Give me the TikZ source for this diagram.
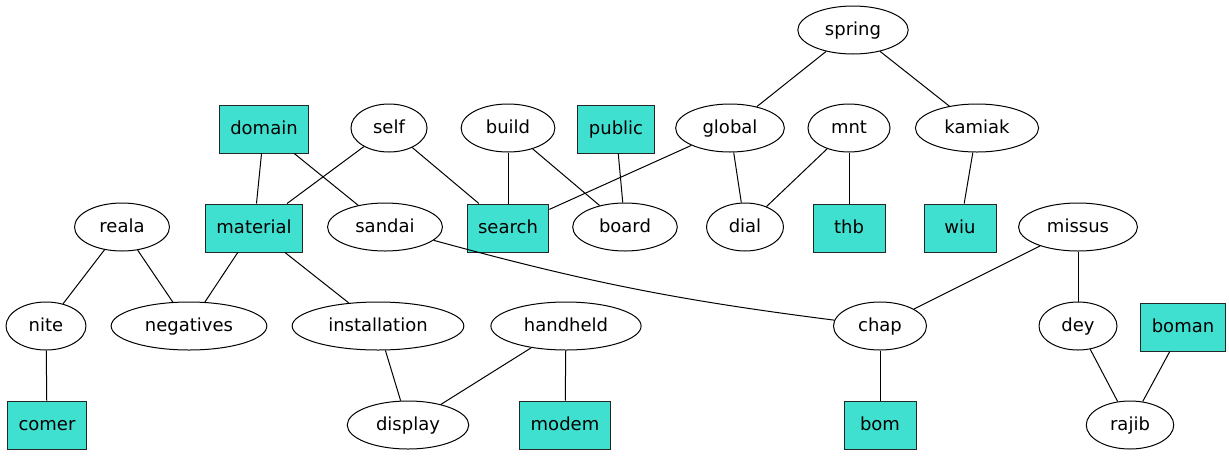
\documentclass[tikz,border=0pt]{standalone}
\usepackage{fontspec}
\setmainfont{DejaVu Sans}
\usetikzlibrary{shapes.geometric}
\definecolor{turq}{HTML}{40E0D0}

\begin{document}
\begin{tikzpicture}[x=1pt, y=-1pt]
  \tikzset{VertexStyle/.style = {shape          = ellipse,
                                 draw           = black,
                                 line width     = 1pt,
                                 text           = black,
                                 inner xsep     = 11pt,
                                 inner ysep     = 0pt,
                                 text height    = 14pt,
                                 text depth     = 4pt,
                                 minimum height = 48pt,
                                 font           = \fontsize{18}{22}\selectfont},
           BoxStyle/.style    = {shape          = rectangle,
                                 draw           = black!85,
                                 fill           = turq,
                                 line width     = 1pt,
                                 text           = black,
                                 inner xsep     = 11pt,
                                 text height    = 14pt,
                                 text depth     = 4pt,
                                 minimum width  = 72pt,
                                 minimum height = 48pt,
                                 font           = \fontsize{18}{22}\selectfont},
           EdgeStyle/.style   = {line width = 1pt}}
  \useasboundingbox (0,0) rectangle (1229,456);
  %%% RANG 1 %%%
  \node[VertexStyle](spring) at (853,30) {spring};
  %%% RANG 2 %%%
  \node[BoxStyle](domain) at (264,129) {domain};
  \node[VertexStyle](self) at (389,128) {self};
  \node[VertexStyle](build) at (508,128) {build};
  \node[BoxStyle](public) at (616,129) {public};
  \node[VertexStyle](global) at (730,128) {global};
  \node[VertexStyle](mnt) at (849,128) {mnt};
  \node[VertexStyle](kamiak) at (977,128) {kamiak};
  %%% RANG 3 %%%
  \node[VertexStyle](reala) at (122,227) {reala};
  \node[BoxStyle](material) at (254,228) {material};
  \node[VertexStyle](sandai) at (385,227) {sandai};
  \node[BoxStyle](search) at (508,228) {search};
  \node[VertexStyle](board) at (625,227) {board};
  \node[VertexStyle](dial) at (745,227) {dial};
  \node[BoxStyle](thb) at (849,228) {thb};
  \node[BoxStyle](wiu) at (960,228) {wiu};
  \node[VertexStyle](missus) at (1078,227) {missus};
  %%% RANG 4 %%%
  \node[VertexStyle](nite) at (46,326) {nite};
  \node[VertexStyle](negatives) at (189,326) {negatives};
  \node[VertexStyle](installation) at (378,326) {installation};
  \node[VertexStyle](handheld) at (566,326) {handheld};
  \node[VertexStyle](chap) at (880,326) {chap};
  \node[VertexStyle](dey) at (1078,326) {dey};
  \node[BoxStyle](boman) at (1183,327) {boman};
  %%% RANG 5 %%%
  \node[BoxStyle](comer) at (47,425) {comer};
  \node[VertexStyle](display) at (408,425) {display};
  \node[BoxStyle](modem) at (565,425) {modem};
  \node[BoxStyle](bom) at (880,425) {bom};
  \node[VertexStyle](rajib) at (1130,425) {rajib};
  %%% ARETES %%%
  \draw[EdgeStyle](spring) -- (global);
  \draw[EdgeStyle](spring) -- (kamiak);
  \draw[EdgeStyle](domain) -- (material);
  \draw[EdgeStyle](domain) -- (sandai);
  \draw[EdgeStyle](self) -- (material);
  \draw[EdgeStyle](self) -- (search);
  \draw[EdgeStyle](build) -- (search);
  \draw[EdgeStyle](build) -- (board);
  \draw[EdgeStyle](public) -- (board);
  \draw[EdgeStyle](global) -- (search);
  \draw[EdgeStyle](global) -- (dial);
  \draw[EdgeStyle](mnt) -- (dial);
  \draw[EdgeStyle](mnt) -- (thb);
  \draw[EdgeStyle](kamiak) -- (wiu);
  \draw[EdgeStyle](reala) -- (nite);
  \draw[EdgeStyle](reala) -- (negatives);
  \draw[EdgeStyle](material) -- (negatives);
  \draw[EdgeStyle](material) -- (installation);
  \draw[EdgeStyle](sandai) to[bend right=4] (chap);
  \draw[EdgeStyle](missus) -- (chap);
  \draw[EdgeStyle](missus) -- (dey);
  \draw[EdgeStyle](nite) -- (comer);
  \draw[EdgeStyle](installation) -- (display);
  \draw[EdgeStyle](handheld) -- (display);
  \draw[EdgeStyle](handheld) -- (modem);
  \draw[EdgeStyle](chap) -- (bom);
  \draw[EdgeStyle](dey) -- (rajib);
  \draw[EdgeStyle](boman) -- (rajib);
\end{tikzpicture}
\end{document}
